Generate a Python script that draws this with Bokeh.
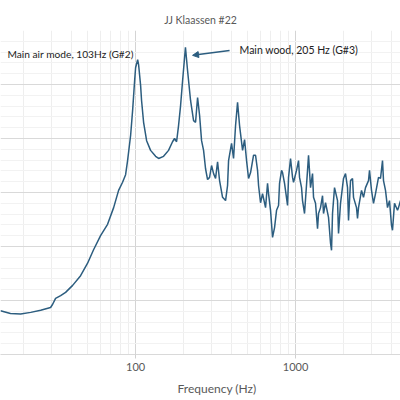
from bokeh.plotting import figure
from bokeh.models import (Range1d, FixedTicker, Label, Title, Arrow, NormalHead,
                          ColumnDataSource)
from bokeh.embed import file_html
from bokeh.resources import INLINE

# Measured response of the guitar body: frequency (Hz) and level (dB)
freq_hz = [
    14.3, 16.5, 19.1, 22.1, 25.5, 29.4, 30.3, 31.6, 34.0, 36.5, 40.4, 45.3,
    50.1, 54.6, 60.4, 66.8, 72.9, 78.3, 82.9, 86.6, 89.1, 93.1, 95.8, 98.6,
    100.0, 103.0, 104.4, 107.5, 109.0, 112.2, 117.2, 124.1, 133.4, 139.3,
    149.6, 160.7, 170.2, 175.2, 180.4, 185.6, 191.1, 196.7, 205.0, 211.3,
    220.7, 230.4, 237.1, 244.1, 251.2, 258.5, 266.1, 273.8, 281.8, 290.1,
    298.5, 307.3, 316.2, 325.5, 335.0, 349.7, 365.2, 375.8, 381.3, 398.1,
    409.7, 421.7, 434.0, 446.7, 466.5, 480.1, 494.1, 508.5, 523.4, 546.5,
    562.3, 578.8, 587.2, 604.3, 621.9, 649.4, 668.3, 678.0, 697.8, 718.2,
    739.2, 760.8, 783.0, 794.3, 817.5, 829.4, 853.6, 891.3, 904.2, 930.6,
    957.8, 971.6, 1014.5, 1044.1, 1059.3, 1090.2, 1105.9, 1138.2, 1188.5,
    1205.7, 1240.9, 1277.1, 1295.7, 1333.5, 1372.5, 1392.4, 1433.0, 1474.9,
    1496.2, 1539.9, 1607.8, 1654.8, 1678.8, 1703.1, 1752.9, 1830.2, 1856.7,
    1911.0, 1995.3, 2053.5, 2113.5, 2144.1, 2207.0, 2271.3, 2304.1, 2405.6,
    2440.6, 2475.9, 2585.2, 2660.7, 2738.4, 2859.2, 2900.6, 2985.4, 3072.6,
    3162.3, 3302.0, 3398.2, 3497.4, 3548.1, 3651.7, 3758.4, 3868.1, 3981.1,
    4038.7, 4156.6, 4340.1, 4402.9, 4531.5, 4732.0,
]
level_db = [
    -51.9, -52.4, -52.5, -52.2, -51.8, -51.3, -50.7, -49.6, -49.1, -48.5,
    -47.2, -45.4, -43.1, -40.6, -38.0, -35.9, -32.8, -29.6, -28.1, -26.7,
    -24.1, -19.4, -14.8, -9.3, -6.9, -5.4, -6.3, -10.2, -13.0, -17.0, -20.4,
    -22.2, -23.3, -23.7, -23.3, -22.2, -20.6, -20.0, -20.6, -17.6, -13.9,
    -9.3, -3.1, -7.4, -13.0, -16.7, -17.0, -12.4, -15.7, -20.4, -22.2,
    -25.6, -27.6, -27.2, -25.0, -26.5, -27.4, -24.3, -27.8, -30.9, -31.5,
    -28.7, -24.1, -20.9, -23.7, -17.6, -13.3, -17.6, -22.2, -20.2, -24.1,
    -27.4, -26.3, -23.1, -23.1, -25.9, -28.7, -31.9, -30.2, -32.8, -28.3,
    -30.2, -33.3, -38.3, -36.5, -33.3, -32.4, -28.3, -25.9, -26.3, -28.3,
    -32.4, -27.2, -23.7, -27.2, -28.1, -25.9, -24.1, -27.2, -29.1, -31.5,
    -33.9, -25.9, -23.1, -29.1, -26.5, -30.9, -32.0, -36.7, -33.9, -32.8,
    -30.6, -33.9, -31.9, -34.6, -39.4, -40.7, -33.9, -29.1, -31.5, -37.6,
    -32.0, -27.4, -26.5, -29.1, -35.2, -27.8, -27.4, -30.9, -32.8, -34.8,
    -32.8, -29.6, -30.9, -29.1, -27.8, -25.9, -29.6, -32.0, -30.2, -27.2,
    -27.4, -24.1, -27.8, -29.6, -32.8, -31.5, -36.1, -37.0, -32.0, -33.3,
    -32.8, -31.5, -32.4,
]

x_ticks = [100, 1000]
x_minor_ticks = [20, 30, 40, 50, 60, 70, 80, 90,
                 200, 300, 400, 500, 600, 700, 800, 900,
                 2000, 3000, 4000]
y_ticks = [-60, -50, -40, -30, -20, -10, 0]
y_minor_ticks = [v for v in range(-60, 1, 2) if v % 10 != 0]

FONT = "Lato"
LINE_COLOR = "#2c5d7f"

p = figure(width=400, height=400, x_axis_type="log", y_axis_location=None,
           x_range=Range1d(14.3, 4531.5), y_range=Range1d(-60, 0),
           output_backend="svg", toolbar_location=None,
           min_border_left=0, min_border_right=0,
           min_border_top=30, min_border_bottom=46)
p.outline_line_color = None
p.background_fill_color = "white"
p.border_fill_color = "white"

p.title.text = "JJ Klaassen #22"
p.title.align = "center"
p.title.text_font = FONT
p.title.text_font_size = "10.5px"
p.title.text_font_style = "normal"
p.title.text_color = "#595959"

xaxis = p.xaxis[0]
xaxis.ticker = FixedTicker(ticks=x_ticks, minor_ticks=x_minor_ticks)
xaxis.major_label_overrides = {100: "100", 1000: "1000"}
xaxis.major_label_text_font = FONT
xaxis.major_label_text_font_size = "11px"
xaxis.major_label_text_color = "#595959"
xaxis.major_label_standoff = 4
xaxis.major_tick_in = 0
xaxis.major_tick_out = 4
xaxis.major_tick_line_color = "#d0d0d0"
xaxis.minor_tick_line_color = None
xaxis.axis_line_color = "#d9d9d9"

p.add_layout(Title(text="Frequency (Hz)", align="left", offset=177,
                   text_font=FONT, text_font_size="12px",
                   text_font_style="normal", text_color="#595959"), "below")

p.xgrid.ticker = FixedTicker(ticks=x_ticks, minor_ticks=x_minor_ticks)
p.xgrid.grid_line_color = "#d4d4d4"
p.xgrid.minor_grid_line_color = "#eeeeee"
p.ygrid.ticker = FixedTicker(ticks=y_ticks, minor_ticks=y_minor_ticks)
p.ygrid.grid_line_color = "#d9d9d9"
p.ygrid.minor_grid_line_color = "#f2f2f2"

src = ColumnDataSource(data=dict(f=freq_hz, db=level_db))
p.line("f", "db", source=src, line_color=LINE_COLOR, line_width=1.5)

p.add_layout(Label(x=15.8, y=-4.4, text="Main air mode, 103Hz (G#2)",
                   text_font=FONT, text_font_size="10.2px", text_color="#222222",
                   text_baseline="middle", text_align="left"))
p.add_layout(Label(x=446.7, y=-3.7, text="Main wood, 205 Hz (G#3)",
                   text_font=FONT, text_font_size="10.5px", text_color="#222222",
                   text_baseline="middle", text_align="left"))
p.add_layout(Arrow(x_start=386.8, y_start=-3.7, x_end=227.1, y_end=-4.6,
                   line_color=LINE_COLOR, line_width=1.5,
                   end=NormalHead(size=6, fill_color=LINE_COLOR,
                                  line_color=LINE_COLOR)))

open("out.html", "w").write(file_html(p, INLINE))
